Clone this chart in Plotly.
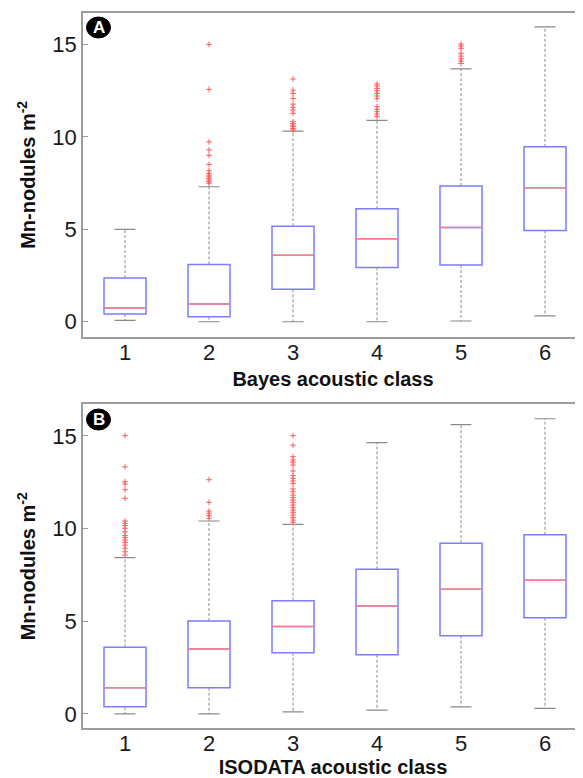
import plotly.graph_objects as go

# ---------------- data ----------------
classes = [1, 2, 3, 4, 5, 6]
tick_labels = ["1", "2", "3", "4", "5", "6"]

# Panel A: Bayes acoustic class
bayes_q1 = [0.42, 0.27, 1.75, 2.94, 3.07, 4.94]
bayes_median = [0.74, 0.96, 3.59, 4.49, 5.10, 7.25]
bayes_q3 = [2.36, 3.10, 5.16, 6.11, 7.34, 9.46]
bayes_lower = [0.07, 0.00, 0.00, 0.00, 0.04, 0.32]
bayes_upper = [5.00, 7.30, 10.31, 10.89, 13.68, 15.95]
bayes_outliers = {
    2: [15.0, 12.57, 9.73, 9.30, 9.00, 8.51, 8.17, 8.03, 7.93, 7.84, 7.75, 7.66, 7.57, 7.49],
    3: [13.13, 12.53, 12.35, 12.08, 11.77, 11.60, 11.45, 11.27, 10.82, 10.72, 10.63,
        10.55, 10.45, 10.37],
    4: [12.86, 12.75, 12.62, 12.49, 12.35, 12.21, 12.06, 11.63, 11.49, 11.36, 11.23, 11.09],
    5: [15.02, 14.91, 14.79, 14.52, 14.37, 14.22, 14.10, 13.97],
}

# Panel B: ISODATA acoustic class
iso_q1 = [0.38, 1.41, 3.30, 3.19, 4.22, 5.19]
iso_median = [1.41, 3.50, 4.72, 5.82, 6.72, 7.21]
iso_q3 = [3.59, 5.01, 6.11, 7.80, 9.21, 9.67]
iso_lower = [0.00, 0.00, 0.11, 0.20, 0.38, 0.30]
iso_upper = [8.43, 10.41, 10.23, 14.64, 15.61, 15.93]
iso_outliers = {
    1: [15.02, 13.33, 12.53, 12.41, 12.10, 11.64, 10.41, 10.29, 10.16, 10.02, 9.83, 9.62,
        9.51, 9.38, 9.26, 9.11, 8.94, 8.75, 8.57],
    2: [12.64, 11.42, 10.95, 10.83, 10.70, 10.56],
    3: [15.02, 14.50, 13.88, 13.70, 13.58, 13.43, 13.11, 12.86, 12.71, 12.57, 12.43, 12.14,
        11.99, 11.81, 11.67, 11.54, 11.42, 11.27, 11.13, 11.00, 10.88, 10.73, 10.59, 10.46,
        10.34],
}

y_ticks = [0, 5, 10, 15]
x_title_a = "Bayes acoustic class"
x_title_b = "ISODATA acoustic class"
y_title = "Mn-nodules m<sup>-2</sup>"
panel_letters = ["A", "B"]

# ---------------- style ----------------
OFF = 8                      # default body margin of the page
W, H = 583 - OFF, 778 - OFF  # figure size inside the page
FONT = "Liberation Sans, Arial, sans-serif"
BOX_BLUE = "#7c7cff"
MED_RED = "#ff8080"
WHISK = "#8a8a8a"
OUT_RED = "#ff5a5a"
AXIS = "#9c9c9c"
BOX_W = 0.5
CAP_W = 0.25

fig = go.Figure()


def add_panel(q1, med, q3, lo, hi, outliers, xa, ya):
    fig.add_trace(go.Box(
        x=classes, q1=q1, median=med, q3=q3, lowerfence=q1, upperfence=q3,
        width=BOX_W, whiskerwidth=0, boxpoints=False,
        line=dict(color=BOX_BLUE, width=1.5), fillcolor="rgba(0,0,0,0)",
        xaxis=xa, yaxis=ya, showlegend=False, hoverinfo="skip"))
    wx, wy = [], []
    for c, a, b, l, u in zip(classes, q1, q3, lo, hi):
        wx += [c, c, None, c, c, None]
        wy += [b, u, None, a, l, None]
    fig.add_trace(go.Scatter(x=wx, y=wy, mode="lines",
                             line=dict(color=WHISK, width=1, dash="3px,2px"),
                             xaxis=xa, yaxis=ya, showlegend=False, hoverinfo="skip"))
    cx, cy = [], []
    for c, l, u in zip(classes, lo, hi):
        cx += [c - CAP_W / 2, c + CAP_W / 2, None, c - CAP_W / 2, c + CAP_W / 2, None]
        cy += [u, u, None, l, l, None]
    fig.add_trace(go.Scatter(x=cx, y=cy, mode="lines",
                             line=dict(color=WHISK, width=1.2),
                             xaxis=xa, yaxis=ya, showlegend=False, hoverinfo="skip"))
    mx, my = [], []
    for c, m in zip(classes, med):
        mx += [c - BOX_W / 2, c + BOX_W / 2, None]
        my += [m, m, None]
    fig.add_trace(go.Scatter(x=mx, y=my, mode="lines",
                             line=dict(color=MED_RED, width=1.5),
                             xaxis=xa, yaxis=ya, showlegend=False, hoverinfo="skip"))
    ox, oy = [], []
    for c, vals in outliers.items():
        ox += [c] * len(vals)
        oy += vals
    fig.add_trace(go.Scatter(x=ox, y=oy, mode="markers",
                             marker=dict(symbol="cross-thin", size=4,
                                         line=dict(color=OUT_RED, width=1)),
                             xaxis=xa, yaxis=ya, showlegend=False, hoverinfo="skip"))


add_panel(bayes_q1, bayes_median, bayes_q3, bayes_lower, bayes_upper, bayes_outliers, "x", "y")
add_panel(iso_q1, iso_median, iso_q3, iso_lower, iso_upper, iso_outliers, "x2", "y2")

# empty traces so the right-hand tick axes are drawn
fig.add_trace(go.Scatter(x=[], y=[], xaxis="x", yaxis="y3", showlegend=False))
fig.add_trace(go.Scatter(x=[], y=[], xaxis="x2", yaxis="y4", showlegend=False))

PLOT_L = 83 - OFF
x_range = [0.5, 0.5 + (W - PLOT_L) / 84.0]
rangeA = [-0.81, 16.7]
rangeB = [-0.78, 16.71]
TICK_SIZE = 22


def xaxis_cfg(title, anchor):
    return dict(range=x_range, domain=[0, 1], anchor=anchor,
                tickmode="array", tickvals=classes, ticktext=tick_labels,
                ticks="", ticklabelstandoff=-5, showgrid=False, zeroline=False,
                showline=True, linecolor=AXIS, linewidth=1.5, mirror=True,
                tickfont=dict(family=FONT, size=TICK_SIZE, color="#1a1a1a"),
                title=dict(text=title, standoff=8,
                           font=dict(family=FONT, size=20, color="#111111", weight="bold")))


def yaxis_cfg(dom, anchor, rng):
    return dict(range=rng, domain=dom, anchor=anchor,
                tickmode="array", tickvals=y_ticks, ticktext=[str(v) for v in y_ticks],
                ticks="inside", ticklen=5, tickcolor=AXIS, tickwidth=1,
                showgrid=False, zeroline=False,
                showline=True, linecolor=AXIS, linewidth=1.5, mirror=False,
                tickfont=dict(family=FONT, size=TICK_SIZE, color="#1a1a1a"),
                title=dict(text=y_title, standoff=11,
                           font=dict(family=FONT, size=20, color="#111111", weight="bold")))


def right_ticks(over, anchor, rng):
    return dict(overlaying=over, anchor=anchor, side="right", range=rng,
                tickmode="array", tickvals=y_ticks, showticklabels=False,
                ticks="inside", ticklen=3, tickcolor=AXIS, tickwidth=1,
                showline=False, showgrid=False, zeroline=False)


def dom(top_px, bottom_px):
    return [1 - (bottom_px - OFF) / H, 1 - (top_px - OFF) / H]


fig.update_layout(
    width=W, height=H,
    margin=dict(l=PLOT_L, r=0, t=0, b=0, autoexpand=False),
    paper_bgcolor="white", plot_bgcolor="white",
    xaxis=xaxis_cfg(x_title_a, "y"),
    yaxis=yaxis_cfg(dom(13, 336.7), "x", rangeA),
    xaxis2=xaxis_cfg(x_title_b, "y2"),
    yaxis2=yaxis_cfg(dom(404.3, 728.3), "x2", rangeB),
    yaxis3=right_ticks("y", "x", rangeA),
    yaxis4=right_ticks("y2", "x2", rangeB),
    showlegend=False,
)

# panel letters in black circles (centre given in page pixels)
for letter, (cxp, cyp) in zip(panel_letters, [(98.5, 27.5), (98.5, 419.5)]):
    ax = (cxp - OFF - PLOT_L) / (W - PLOT_L)
    ay = 1 - (cyp - OFF) / H
    fig.add_shape(type="circle", xref="paper", yref="paper",
                  xsizemode="pixel", ysizemode="pixel", xanchor=ax, yanchor=ay,
                  x0=-12, x1=12, y0=-10.5, y1=10.5, layer="below",
                  fillcolor="black", line=dict(color="black", width=1))
    fig.add_annotation(x=ax, y=ay, xref="paper", yref="paper",
                       text="<b>" + letter + "</b>", showarrow=False,
                       xanchor="center", yanchor="middle",
                       font=dict(family=FONT, size=17, color="white"))

fig.write_html("out.html")
